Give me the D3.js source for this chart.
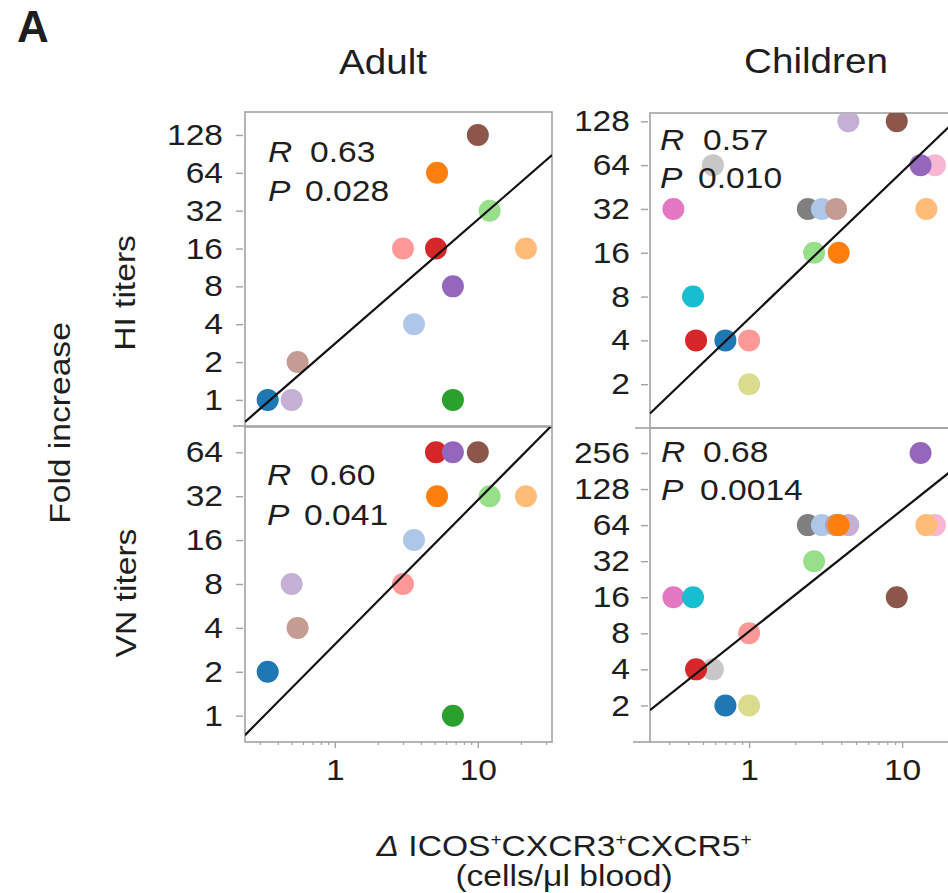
<!DOCTYPE html>
<html>
<head>
<meta charset="utf-8">
<script src="https://cdn.jsdelivr.net/npm/d3@7"></script>
<style>
  body { margin: 0; background: #fff; }
  svg { display: block; }
  text { font-family: "Liberation Sans", Arial, sans-serif; fill: #1e1e1e; }
</style>
</head>
<body>
<svg id="js-svg" width="948" height="893"></svg>
<script>
// adults, one entry per subject
const adultColors = ["#1f77b4", "#c5b0d5", "#c49c94", "#ff9896", "#aec7e8", "#d62728",
  "#ff7f0e", "#9467bd", "#2ca02c", "#8c564b", "#98df8a", "#ffbb78"];
const adultCells = [0.34, 0.50, 0.55, 3.0, 3.58, 5.1, 5.19, 6.7, 6.7, 10.0, 12.1, 21.7];
const adultHI = [1, 1, 2, 16, 4, 16, 64, 8, 1, 128, 32, 16];
const adultVN = [2, 8, 4, 8, 16, 64, 32, 64, 1, 64, 32, 32];

// children
const childColors = ["#e377c2", "#17becf", "#c7c7c7", "#d62728", "#1f77b4", "#ff9896",
  "#dbdb8d", "#7f7f7f", "#98df8a", "#aec7e8", "#c5b0d5", "#c49c94", "#ff7f0e",
  "#8c564b", "#f7b6d2", "#9467bd", "#ffbb78"];
const childCells = [0.32, 0.43, 0.58, 0.45, 0.70, 1.0, 1.0, 2.42, 2.66, 2.99, 4.45, 3.70,
  3.85, 9.23, 16.4, 13.2, 14.4];
const childHI = [32, 8, 64, 4, 4, 4, 2, 32, 16, 32, 128, 32, 16, 128, 64, 64, 32];
const childVN = [16, 16, 4, 4, 2, 8, 2, 64, 32, 64, 64, 64, 64, 16, 64, 256, 64];

// fit lines: log2(titer) = a + b * log10(cells)   [adult HI, child HI, adult VN, child VN]
const fitA = [1.48, 2.50, 1.62, 3.05];
const fitB = [3.285, 3.35, 3.29, 3.37];
const statR = ["0.63", "0.57", "0.60", "0.68"];
const statP = ["0.028", "0.010", "0.041", "0.0014"];

const adultHITicks = [1, 2, 4, 8, 16, 32, 64, 128];
const adultVNTicks = [1, 2, 4, 8, 16, 32, 64];
const childHITicks = [2, 4, 8, 16, 32, 64, 128];
const childVNTicks = [2, 4, 8, 16, 32, 64, 128, 256];
const xMajor = [1, 10];
const xMinorAdult = [0.3, 0.4, 0.5, 0.6, 0.7, 0.8, 0.9, 2, 3, 4, 5, 6, 7, 8, 9, 20, 30];
const xMinorChild = [0.3, 0.4, 0.5, 0.6, 0.7, 0.8, 0.9, 2, 3, 4, 5, 6, 7, 8, 9, 20];

const SX = 1.12; // text in the figure is a bit wider than Liberation Sans
const axisGrey = "#a3a3a3";

const svg = d3.select("#js-svg");
svg.append("rect").attr("width", 948).attr("height", 893).attr("fill", "#fff");

function label(parent, str, x, y, size, opts = {}) {
  const t = parent.append("text")
    .attr("transform", `translate(${x},${y}) rotate(${opts.rotate || 0}) scale(${opts.sx || SX},1)`)
    .attr("text-anchor", opts.anchor || "start")
    .style("font-size", size + "px");
  if (opts.italic) t.style("font-style", "italic");
  if (opts.bold) t.style("font-weight", "bold");
  t.text(str);
  return t;
}

const xAdult = d3.scaleLog().domain([0.236, 33]).range([245, 552]);
const xChild = d3.scaleLog().domain([0.225, 23.9]).range([650, 960]);

const panels = [
  { x: xAdult, y: d3.scaleLog().base(2).domain([0.62, 195]).range([426, 112]),
    cells: adultCells, vals: adultHI, colors: adultColors, ticks: adultHITicks, pad: 13, k: 0,
    stat: [268, 162, 310, 305, 201] },
  { x: xChild, y: d3.scaleLog().base(2).domain([1.0, 146]).range([428, 113]),
    cells: childCells, vals: childHI, colors: childColors, ticks: childHITicks, pad: 11, k: 1,
    stat: [660, 150, 703, 698, 188] },
  { x: xAdult, y: d3.scaleLog().base(2).domain([0.66, 95.4]).range([742, 427]),
    cells: adultCells, vals: adultVN, colors: adultColors, ticks: adultVNTicks, pad: 13, k: 2,
    stat: [267, 485, 310, 304, 525], bottom: xMinorAdult },
  { x: xChild, y: d3.scaleLog().base(2).domain([0.99, 414]).range([742, 428]),
    cells: childCells, vals: childVN, colors: childColors, ticks: childVNTicks, pad: 11, k: 3,
    stat: [661, 462, 703, 700, 500], bottom: xMinorChild }
];

panels.forEach((p, i) => {
  const [x0, x1] = p.x.range();
  const [yb, yt] = p.y.range();
  const g = svg.append("g");

  const clipId = "clip" + i;
  svg.append("clipPath").attr("id", clipId)
    .append("rect").attr("x", x0).attr("y", yt).attr("width", x1 - x0).attr("height", yb - yt);

  // frame
  g.append("rect")
    .attr("x", x0).attr("y", yt).attr("width", x1 - x0).attr("height", yb - yt)
    .attr("fill", "none").attr("stroke", axisGrey).attr("stroke-width", 1.6);

  // y axis
  const ya = g.append("g").attr("transform", `translate(${x0 - 2},0)`)
    .call(d3.axisLeft(p.y).tickValues(p.ticks).tickSize(7).tickPadding(p.pad)
      .tickFormat(d3.format("d")));
  ya.select(".domain").remove();
  ya.selectAll("line").attr("stroke", axisGrey).attr("stroke-width", 1.4);
  ya.selectAll("text")
    .attr("x", function () { return +d3.select(this).attr("x") / SX; })
    .attr("transform", `scale(${SX},1)`)
    .style("font-size", "30px").attr("fill", "#1e1e1e");

  // bottom axis (lower row only)
  if (p.bottom) {
    const xa = g.append("g").attr("transform", `translate(0,${yb})`)
      .call(d3.axisBottom(p.x).tickValues(xMajor).tickSize(6).tickPadding(11)
        .tickFormat(d3.format("d")));
    xa.select(".domain").remove();
    xa.selectAll("line").attr("stroke", axisGrey).attr("stroke-width", 1.4);
    xa.selectAll("text").attr("transform", `scale(${SX},1)`)
      .style("font-size", "30px").attr("fill", "#1e1e1e");
    const xm = g.append("g").attr("transform", `translate(0,${yb})`)
      .call(d3.axisBottom(p.x).tickValues(p.bottom).tickSize(3).tickFormat(""));
    xm.select(".domain").remove();
    xm.selectAll("line").attr("stroke", axisGrey).attr("stroke-width", 1.2);
  }

  // dots
  const dots = p.cells.map((c, j) => ({ c, v: p.vals[j], col: p.colors[j] }));
  g.append("g").attr("clip-path", `url(#${clipId})`)
    .selectAll("circle").data(dots).join("circle")
    .attr("cx", d => p.x(d.c)).attr("cy", d => p.y(d.v)).attr("r", 11)
    .attr("fill", d => d.col);

  // fit line
  const dom = p.x.domain();
  const fit = dom.map(c => ({ c, v: Math.pow(2, fitA[p.k] + fitB[p.k] * Math.log10(c)) }));
  g.append("path").datum(fit)
    .attr("clip-path", `url(#${clipId})`)
    .attr("d", d3.line().x(d => p.x(d.c)).y(d => p.y(d.v)))
    .attr("fill", "none").attr("stroke", "#111").attr("stroke-width", 2.2);

  // R / P
  const s = p.stat;
  label(g, "R", s[0], s[1], 30, { italic: true });
  label(g, statR[p.k], s[2], s[1], 30);
  label(g, "P", s[0], s[4], 30, { italic: true });
  label(g, statP[p.k], s[3], s[4], 30);
});

// short stubs where the divider and bottom axis run past the left axis
[[233, 245, 426], [635, 650, 428], [633, 650, 742]].forEach(([a, b, y]) => {
  svg.append("line").attr("x1", a).attr("x2", b).attr("y1", y).attr("y2", y)
    .attr("stroke", axisGrey).attr("stroke-width", 1.6);
});

// titles and labels
label(svg, "A", 17, 42, 44, { bold: true, sx: 1 });
label(svg, "Adult", 383, 74, 34.5, { anchor: "middle" });
label(svg, "Children", 816, 73, 34.5, { anchor: "middle" });
label(svg, "Fold increase", 70, 423, 30, { anchor: "middle", rotate: -90 });
label(svg, "HI titers", 135, 293, 30, { anchor: "middle", rotate: -90 });
label(svg, "VN titers", 136, 593, 30, { anchor: "middle", rotate: -90 });

const xt = svg.append("text")
  .attr("transform", `translate(564,856) scale(${SX},1)`)
  .attr("text-anchor", "middle").style("font-size", "30px");
xt.append("tspan").style("font-style", "italic").text("Δ");
["ICOS", "CXCR3", "CXCR5"].forEach((w, j) => {
  xt.append("tspan").attr("dy", j ? 11 : 0).text(j ? w : " " + w);
  xt.append("tspan").attr("dy", -11).style("font-size", "17px").text("+");
});
label(svg, "(cells/\u03bcl blood)", 564, 886, 30, { anchor: "middle" });
</script>
</body>
</html>
